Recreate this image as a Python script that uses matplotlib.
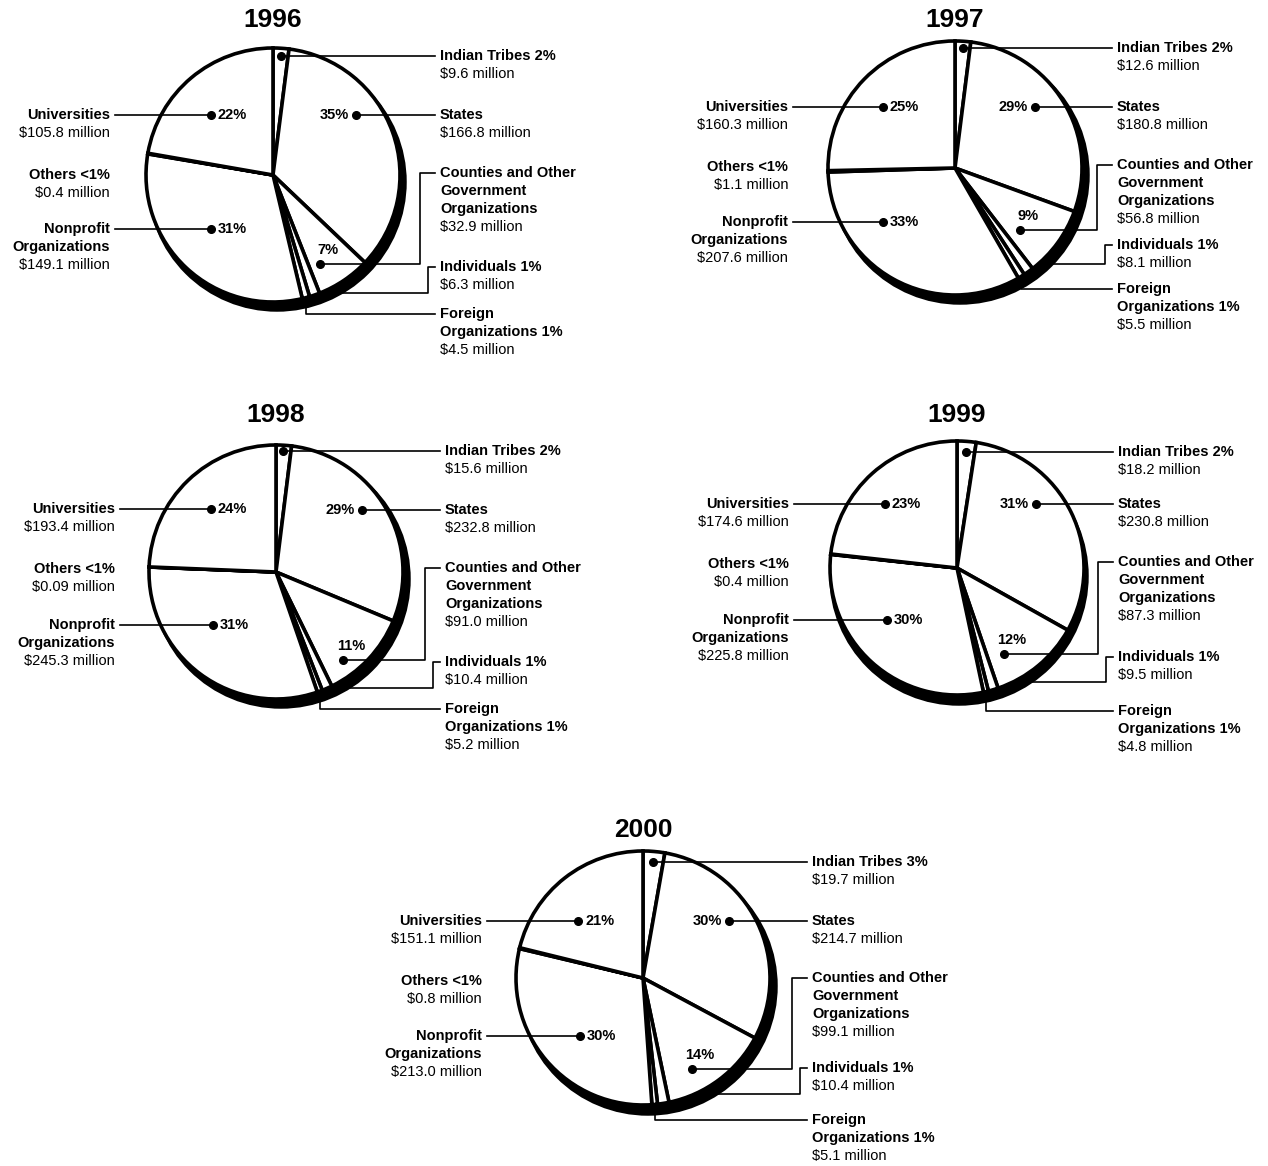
import numpy as np
import matplotlib.pyplot as plt
from matplotlib.patches import Circle

plt.rcParams['font.family'] = ['Liberation Sans', 'DejaVu Sans']

# datos (millones de dolares), orden horario desde arriba
years = ['1996', '1997', '1998', '1999', '2000']
indian_tribes = [9.6, 12.6, 15.6, 18.2, 19.7]
states = [166.8, 180.8, 232.8, 230.8, 214.7]
counties = [32.9, 56.8, 91.0, 87.3, 99.1]
individuals = [6.3, 8.1, 10.4, 9.5, 10.4]
foreign = [4.5, 5.5, 5.2, 4.8, 5.1]
nonprofit = [149.1, 207.6, 245.3, 225.8, 213.0]
others = [0.4, 1.1, 0.09, 0.4, 0.8]
universities = [105.8, 160.3, 193.4, 174.6, 151.1]

# posicion de cada pastel en pixeles
centers = [(273, 175), (955, 168), (276, 572), (957, 568), (643, 978)]
title_y = [20, 20, 415, 415, 830]
R = 127
right_dx = [167, 162, 169, 161, 169]
left_dx = [-163, -167, -161, -168, -161]
# filas de etiquetas: indian, states, counties, indiv, foreign, univ, others, nonprofit
rows = [
    [-119, -60, -2, 92, 139, -60, 0, 54],
    [-120, -61, -3, 77, 121, -61, -1, 54],
    [-121, -62, -4, 90, 137, -63, -3, 53],
    [-116, -64, -6, 89, 143, -64, -4, 52],
    [-116, -57, 0, 90, 142, -57, 3, 58],
]
states_dot = [83, 80, 86, 79, 86]
counties_dot = [(47, 89), (65, 62), (67, 88), (47, 86), (49, 91)]
univ_dot = [-62, -72, -65, -72, -65]
nonprofit_dot = [-62, -72, -63, -70, -63]
indiv_line = [118, 96, 116, 114, 116]
shadow = [(4, 7), (5, 7), (5, 7), (2, 8), (5, 8)]

LS = 18
FS = 10.5

fig = plt.figure(figsize=(12.68, 11.66), dpi=100)
ax = fig.add_axes([0, 0, 1, 1])


def money(v):
    if v < 0.1:
        return '$%.2f million' % v
    return '$%.1f million' % v


def pct(v, tot):
    p = round(v / tot * 100)
    if p < 1:
        return '<1%'
    return '%d%%' % p


def label(x, y, bold_lines, amount, ha):
    for i, t in enumerate(bold_lines):
        ax.text(x, y + i * LS, t, ha=ha, va='center', fontsize=FS, fontweight='bold')
    ax.text(x, y + len(bold_lines) * LS, amount, ha=ha, va='center', fontsize=FS)


def dot(x, y):
    ax.plot([x], [y], 'o', color='black', ms=5.5, zorder=5)


for k in range(5):
    vals = [indian_tribes[k], states[k], counties[k], individuals[k],
            foreign[k], nonprofit[k], others[k], universities[k]]
    tot = sum(vals)
    cx, cy = centers[k]
    rw = rows[k]
    xr = cx + right_dx[k]
    xl = cx + left_dx[k]

    sdx, sdy = shadow[k]
    ax.add_patch(Circle((cx + sdx, cy + sdy), R + 1, fc='black', ec='black', lw=2.5, zorder=0.5))
    wedges, _ = ax.pie(vals, startangle=-90, counterclock=True, center=(cx, cy), radius=R,
                       colors=['white'] * 8, frame=True,
                       wedgeprops=dict(edgecolor='black', linewidth=2.6, zorder=1))

    ax.text(cx, title_y[k], years[k], ha='center', va='center', fontsize=19, fontweight='bold')

    # Indian Tribes
    w = wedges[0]
    mid = np.radians((w.theta1 + w.theta2) / 2)
    y = cy + rw[0]
    x = cx + (y - cy) / np.tan(mid)
    dot(x, y)
    ax.plot([x, xr - 5], [y, y], color='black', lw=1.2)
    label(xr, y, ['Indian Tribes ' + pct(vals[0], tot)], money(vals[0]), 'left')

    # States
    y = cy + rw[1]
    x = cx + states_dot[k]
    dot(x, y)
    ax.plot([x, xr - 5], [y, y], color='black', lw=1.2)
    ax.text(x - 7, y, pct(vals[1], tot), ha='right', va='center', fontsize=FS, fontweight='bold')
    label(xr, y, ['States'], money(vals[1]), 'left')

    # Counties
    x = cx + counties_dot[k][0]
    y = cy + counties_dot[k][1]
    y2 = cy + rw[2]
    dot(x, y)
    ax.plot([x, xr - 20, xr - 20, xr - 5], [y, y, y2, y2], color='black', lw=1.2)
    ax.text(x + 8, y - 14, pct(vals[2], tot), ha='center', va='center', fontsize=FS, fontweight='bold')
    label(xr, y2, ['Counties and Other', 'Government', 'Organizations'], money(vals[2]), 'left')

    # Individuals
    yl = cy + indiv_line[k]
    x0 = cx + np.sqrt(max(R ** 2 - (yl - cy) ** 2, 0)) + sdx
    y2 = cy + rw[3]
    ax.plot([x0, xr - 12, xr - 12, xr - 5], [yl, yl, y2, y2], color='black', lw=1.2)
    label(xr, y2, ['Individuals ' + pct(vals[3], tot)], money(vals[3]), 'left')

    # Foreign
    w = wedges[4]
    mid = np.radians((w.theta1 + w.theta2) / 2)
    x0 = cx + R * np.cos(mid)
    y0 = cy + R * np.sin(mid)
    y2 = cy + rw[4]
    ax.plot([x0, x0, xr - 5], [y0, y2, y2], color='black', lw=1.2)
    label(xr, y2, ['Foreign', 'Organizations ' + pct(vals[4], tot)], money(vals[4]), 'left')

    # Universities
    y = cy + rw[5]
    x = cx + univ_dot[k]
    dot(x, y)
    ax.plot([xl + 5, x], [y, y], color='black', lw=1.2)
    ax.text(x + 7, y, pct(vals[7], tot), ha='left', va='center', fontsize=FS, fontweight='bold')
    label(xl, y, ['Universities'], money(vals[7]), 'right')

    # Others
    label(xl, cy + rw[6], ['Others ' + pct(vals[6], tot)], money(vals[6]), 'right')

    # Nonprofit
    y = cy + rw[7]
    x = cx + nonprofit_dot[k]
    dot(x, y)
    ax.plot([xl + 5, x], [y, y], color='black', lw=1.2)
    ax.text(x + 7, y, pct(vals[5], tot), ha='left', va='center', fontsize=FS, fontweight='bold')
    label(xl, y, ['Nonprofit', 'Organizations'], money(vals[5]), 'right')

ax.set_xlim(0, 1268)
ax.set_ylim(1166, 0)
ax.set_aspect('equal')
ax.axis('off')

plt.savefig('out.png', dpi=100)
